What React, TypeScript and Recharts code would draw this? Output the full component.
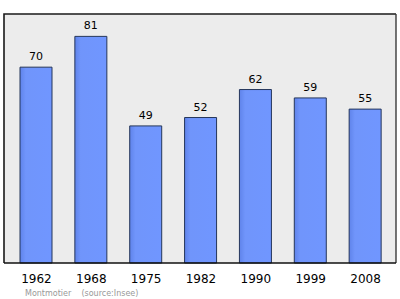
import React from "react";
import { BarChart, Bar, XAxis, YAxis, CartesianGrid, LabelList, usePlotArea } from "recharts";

const years = ["1962", "1968", "1975", "1982", "1990", "1999", "2008"];
const population = [70, 81, 49, 52, 62, 59, 55];

const data = years.map((year, i) => ({ year, population: population[i] }));

const W = 400;
const H = 299;
// XAxis reserves its own 30px below the plot
const margin = { top: 14, right: 4, bottom: 6, left: 4 };

// dark frame on the top, left and right edges of the plot, plus the source line
const PlotFrame = () => {
  const area = usePlotArea();
  if (!area) return null;
  const { x, y, width, height } = area;
  return (
    <g>
      <path
        d={`M${x},${y + height} L${x},${y} L${x + width},${y}`}
        fill="none"
        stroke="#1a1a1a"
        strokeWidth={1.6}
      />
      <line x1={x + width} y1={y} x2={x + width} y2={y + height} stroke="#3a3a3a" strokeWidth={1.4} />
      <text
        x={x + 21}
        y={y + height + 33}
        fontSize={8}
        fill="#999"
        fontFamily="DejaVu Sans"
        style={{ whiteSpace: "pre" }}
      >
        {"Montmotier    (source:Insee)"}
      </text>
    </g>
  );
};

export default function App() {
  return (
    <div style={{ position: "absolute", left: 0, top: 0, width: W, height: H, background: "#fff" }}>
      <BarChart width={W} height={H} data={data} margin={margin}>
        <defs>
          <linearGradient id="barFill" x1="0" y1="0" x2="1" y2="0">
            <stop offset="0%" stopColor="#5f83ea" />
            <stop offset="18%" stopColor="#7095fb" />
            <stop offset="100%" stopColor="#7096ff" />
          </linearGradient>
        </defs>
        <CartesianGrid fill="#ececec" fillOpacity={1} horizontal={false} vertical={false} />
        <XAxis
          dataKey="year"
          padding={{ left: 5, right: 3 }}
          tickLine={false}
          axisLine={{ stroke: "#111", strokeWidth: 1.5 }}
          tick={{ fill: "#000", fontSize: 12, fontFamily: "DejaVu Sans" }}
          tickMargin={5}
        />
        <YAxis hide domain={[0, 89]} />
        <Bar
          dataKey="population"
          barSize={32}
          fill="url(#barFill)"
          stroke="#25365a"
          strokeWidth={1}
          isAnimationActive={false}
        >
          <LabelList
            dataKey="population"
            position="top"
            offset={7}
            style={{ fill: "#000", fontSize: 11, fontFamily: "DejaVu Sans" }}
          />
        </Bar>
        <PlotFrame />
      </BarChart>
    </div>
  );
}
